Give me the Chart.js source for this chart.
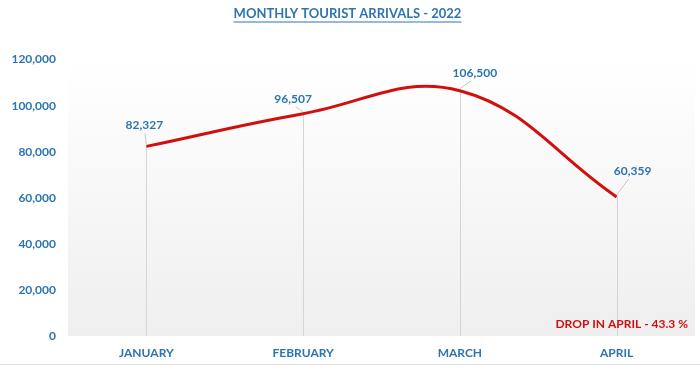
<!DOCTYPE html>
<html>
<head>
<meta charset="utf-8">
<script src="https://cdn.jsdelivr.net/npm/chart.js@4.4.1/dist/chart.umd.min.js"></script>
<style>
  html, body { margin: 0; padding: 0; background: #fff; }
  #wrap { width: 700px; height: 389px; position: relative; }
</style>
</head>
<body>
<div id="wrap"><canvas id="chartArrivals"></canvas></div>
<script>
// Datos
var MESES = ['JANUARY', 'FEBRUARY', 'MARCH', 'APRIL'];
var LLEGADAS = [82327, 96507, 106500, 60359];
var Y_MAX = 120000;
var Y_PASO = 20000;
var TITULO = 'MONTHLY TOURIST ARRIVALS - 2022';
var NOTA = 'DROP IN APRIL - 43.3 %';

var AZUL = '#2e74b0';
var ROJO = '#d20f0f';
var FUENTE = 'Lato, "Open Sans", sans-serif';

// offsets de etiquetas (label relativo al punto)
var OFFSETS_ETIQUETA = [[-2, -21], [-10, -15], [15, -18], [16, -26]];

function fmt(v) { return Number(v).toLocaleString('en-US'); }

// Fondo degradado del área del gráfico + líneas verticales
var fondoPlugin = {
  id: 'fondo',
  beforeDraw: function(chart) {
    var ctx = chart.ctx, a = chart.chartArea;
    ctx.save();
    var g = ctx.createLinearGradient(0, a.top, 0, a.bottom);
    g.addColorStop(0, 'rgba(255,255,255,1)');
    g.addColorStop(1, '#efefef');
    ctx.fillStyle = g;
    ctx.fillRect(a.left, a.top - 10, a.right - a.left, a.bottom - a.top + 10);
    // linea inferior
    ctx.strokeStyle = '#dddddd';
    ctx.lineWidth = 1;
    ctx.beginPath();
    ctx.moveTo(0, 364.5);
    ctx.lineTo(chart.width, 364.5);
    ctx.stroke();
    ctx.restore();
  },
  beforeDatasetsDraw: function(chart) {
    var ctx = chart.ctx, a = chart.chartArea;
    var meta = chart.getDatasetMeta(0);
    ctx.save();
    ctx.strokeStyle = '#d4d4d4';
    ctx.lineWidth = 1;
    meta.data.forEach(function(p) {
      var x = Math.round(p.x) + 0.5;
      ctx.beginPath();
      ctx.moveTo(x, p.y);
      ctx.lineTo(x, a.bottom);
      ctx.stroke();
    });
    ctx.restore();
  },
  afterDatasetsDraw: function(chart) {
    var ctx = chart.ctx, a = chart.chartArea;
    var meta = chart.getDatasetMeta(0);
    ctx.save();
    ctx.font = 'bold 12px ' + FUENTE;
    ctx.textAlign = 'center';
    ctx.textBaseline = 'middle';
    meta.data.forEach(function(p, i) {
      var off = OFFSETS_ETIQUETA[i];
      var lx = p.x + off[0], ly = p.y + off[1];
      // linea guía
      ctx.strokeStyle = '#c8c8c8';
      ctx.lineWidth = 1;
      ctx.beginPath();
      ctx.moveTo(p.x, p.y - 2);
      ctx.lineTo(p.x + off[0] * 0.75, ly + 8);
      ctx.stroke();
      ctx.fillStyle = AZUL;
      ctx.fillText(fmt(LLEGADAS[i]), lx, ly);
    });
    // nota
    ctx.fillStyle = ROJO;
    ctx.textAlign = 'right';
    ctx.fillText(NOTA, a.right - 7, a.bottom - 12);
    // subrayado del título
    var t = chart.titleBlock;
    if (t) {
      ctx.font = 'bold 13px ' + FUENTE;
      var w = ctx.measureText(TITULO).width;
      var cx = (t.left + t.right) / 2;
      var y = t.top + 6 + 15.5;
      ctx.strokeStyle = AZUL;
      ctx.lineWidth = 1;
      ctx.beginPath();
      ctx.moveTo(cx - w / 2, y + 0.5);
      ctx.lineTo(cx + w / 2, y + 0.5);
      ctx.stroke();
    }
    ctx.restore();
  }
};

new Chart(document.getElementById('chartArrivals'), {
  type: 'line',
  data: {
    labels: MESES,
    datasets: [{
      data: LLEGADAS,
      borderColor: ROJO,
      borderWidth: 3,
      tension: 0.4,
      pointRadius: 0,
      fill: false
    }]
  },
  options: {
    responsive: true,
    maintainAspectRatio: false,
    animation: false,
    layout: { padding: { right: 5, left: 0, top: 0, bottom: 0 } },
    plugins: {
      legend: { display: false },
      tooltip: { enabled: false },
      title: {
        display: true,
        text: TITULO,
        color: AZUL,
        font: { family: FUENTE, size: 13, weight: 'bold' },
        padding: { top: 6, bottom: 38 }
      }
    },
    scales: {
      x: {
        offset: true,
        grid: { display: false, drawTicks: false },
        border: { display: false },
        ticks: { color: AZUL, font: { family: FUENTE, size: 12, weight: 'bold' }, padding: 10 },
        afterFit: function(s) { s.height = 53; }
      },
      y: {
        min: 0,
        max: Y_MAX,
        grid: { display: false, drawTicks: false },
        border: { display: false },
        ticks: {
          stepSize: Y_PASO,
          color: AZUL,
          padding: 12,
          font: { family: FUENTE, size: 12, weight: 'bold' },
          callback: function(v) { return fmt(v); }
        },
        afterFit: function(s) { s.width = 68; }
      }
    }
  },
  plugins: [fondoPlugin]
});
</script>
</body>
</html>
